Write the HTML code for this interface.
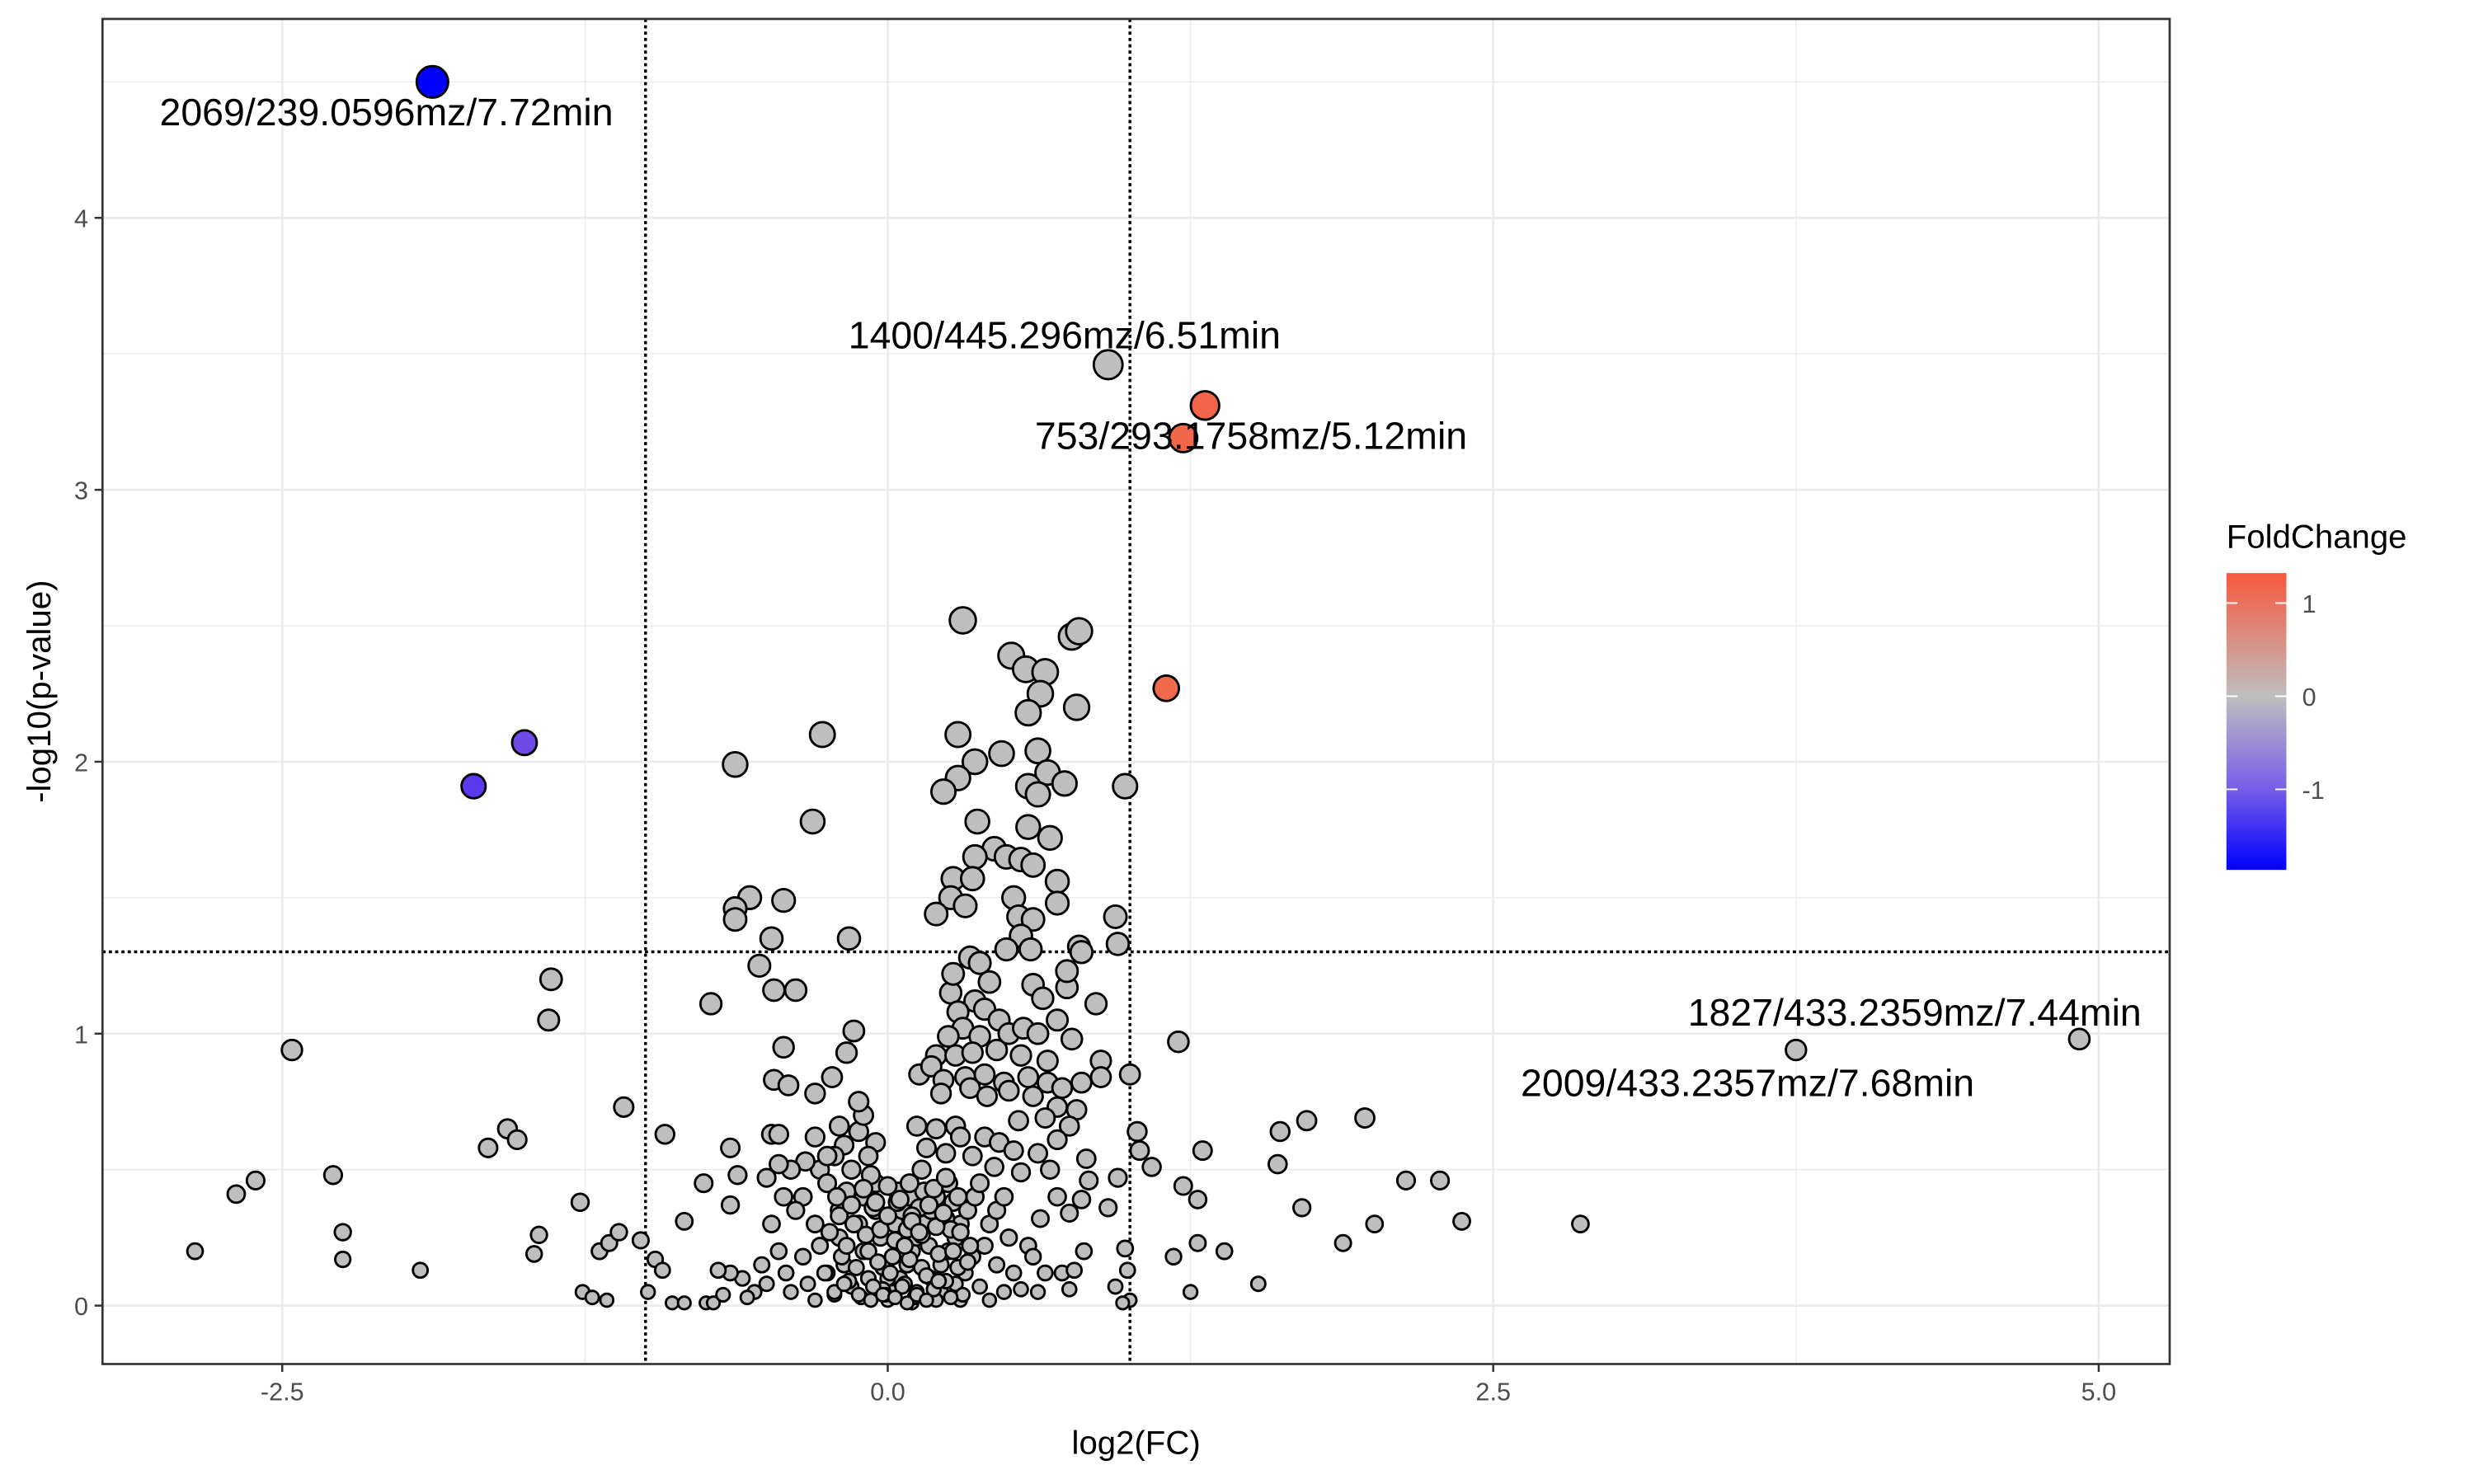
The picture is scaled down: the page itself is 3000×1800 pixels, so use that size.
<!DOCTYPE html>
<html><head><meta charset="utf-8"><style>
html,body{margin:0;padding:0;background:#fff;}
svg{display:block;}
text{font-family:"Liberation Sans",sans-serif;}
</style></head><body>
<svg id="chart" width="3000" height="1800" viewBox="0 0 1569 940" preserveAspectRatio="none" xmlns="http://www.w3.org/2000/svg"></svg>
<script>
const xTicks=[-2.5,0,2.5,5];
const xTickLabels=["-2.5","0.0","2.5","5.0"];
const yTicks=[0,1,2,3,4];
const yTickLabels=["0","1","2","3","4"];
const xVals=[0.31,0.51,0.57,0.65,0.76,0.79,0.63,0.78,0.58,0.29,0.62,0.47,0.36,0.29,0.23,0.66,0.73,0.58,0.62,0.98,0.37,0.58,0.67,0.44,0.49,0.36,0.55,0.60,0.27,0.35,0.70,0.26,0.52,0.32,0.70,0.20,0.94,0.54,0.60,0.55,0.79,0.95,0.49,0.59,0.80,
-0.27,-0.63,-0.31,-0.57,-0.43,-0.63,-0.63,-0.16,-0.48,
-1.39,-1.40,-0.73,-0.53,-0.47,-0.38,-0.14,-0.43,-0.17,-2.46,1.20,1.0,
1.62,1.73,1.97,1.61,2.14,2.28,1.71,2.37,2.01,1.88,2.86,1.53,1.30,1.22,1.28,1.39,1.28,1.18,1.25,1.09,1.03,1.04,
-2.86,-2.69,-2.61,-2.29,-2.25,-2.25,-1.93,-1.65,-1.57,-1.53,-1.44,-1.46,-1.27,-1.09,-0.92,-1.19,-1.15,-1.11,-1.02,-1.26,-1.22,-1.16,-0.99,-0.96,-0.93,-0.84,-0.89,-0.84,-0.75,-0.72,-0.76,-0.65,-0.62,-0.65,-0.48,-0.45,-0.47,-0.41,-0.30,-0.23,
0.26,0.27,0.34,0.38,0.42,0.36,0.29,0.40,0.46,0.31,0.38,0.25,0.50,0.56,0.62,0.70,0.74,0.74,0.60,0.64,0.86,0.76,0.20,0.28,0.35,0.45,0.55,0.66,0.88,0.13,0.18,0.23,0.32,0.40,0.48,0.58,0.66,0.72,0.80,0.88,0.22,0.34,0.41,0.50,0.60,0.70,0.78,0.54,0.65,0.75,0.12,0.20,0.28,0.30,0.40,0.46,0.52,0.62,0.70,0.82,0.16,0.24,0.35,0.44,0.55,0.67,0.83,0.95,0.70,0.80,0.75,0.91,0.63,0.58,0.60,0.65,0.72,0.77,0.81,0.75,0.94,0.99,0.98,1.00,0.97,0.62,
-0.05,-0.12,-0.18,-0.22,-0.28,-0.34,-0.4,-0.45,-0.5,-0.43,-0.35,-0.25,-0.15,-0.08,-0.1,-0.12,-0.2,-0.3,-0.38,-0.3,-0.2,-0.1,-0.05,-0.48,-0.45,-0.52,-0.5,-0.42,-0.35,-0.28,-0.2,-0.12,-0.05,-0.4,-0.33,-0.25,-0.18,-0.1,-0.03,-0.3,-0.22,-0.15,-0.08,-0.02,-0.55,-0.6,-0.58,-0.65,-0.68,-0.7,-0.25,-0.17,-0.07,
0.02,0.05,0.08,0.1,0.12,0.15,0.18,0.2,0.03,0.06,0.09,0.05,0.02,0.12,0.18,0.22,0.25,0.28,0.3,0.33,0.36,0.38,0.25,0.15,0.22,0.28,0.32,0.35,0.4,0.42,0.45,0.48,0.5,0.45,0.38,0.3,0.2,0.1,0.0,0.0,-0.02,0.07,0.14,0.17,0.08,0.04,0.13,0.24,0.27,0.1,0.52,0.55,0.48,0.42,
-0.26,-0.22,-0.19,-0.16,-0.13,-0.11,-0.08,-0.06,-0.04,-0.01,0.01,0.03,0.06,0.09,0.11,0.14,0.16,0.19,0.21,0.24,0.26,0.29,0.31,0.34,
-0.24,-0.2,-0.17,-0.14,-0.09,-0.06,-0.03,0.0,0.04,0.07,0.1,0.13,0.17,0.2,0.23,0.27,0.3,0.33,
-0.21,-0.15,-0.1,-0.05,0.0,0.05,0.09,0.14,0.19,0.24,0.29,-0.18,-0.12,-0.07,-0.02,0.03,0.08,0.12,0.16,0.21,0.26,
0.91,4.92,3.75];
const yVals=[2.52,2.39,2.34,2.33,2.46,2.48,2.25,2.20,2.18,2.10,2.04,2.03,2.00,1.94,1.89,1.96,1.92,1.91,1.88,1.91,1.78,1.76,1.72,1.68,1.65,1.65,1.64,1.62,1.57,1.57,1.56,1.50,1.50,1.47,1.48,1.44,1.43,1.43,1.42,1.36,1.32,1.33,1.31,1.31,1.30,
2.10,1.99,1.78,1.50,1.49,1.46,1.42,1.35,1.35,
1.20,1.05,1.11,1.25,1.16,1.16,1.01,0.95,0.93,0.94,0.97,0.85,
0.64,0.68,0.69,0.52,0.46,0.46,0.36,0.31,0.30,0.23,0.30,0.08,0.57,0.44,0.39,0.20,0.23,0.18,0.05,0.51,0.64,0.57,
0.20,0.41,0.46,0.48,0.27,0.17,0.13,0.58,0.65,0.61,0.26,0.19,0.38,0.73,0.63,0.20,0.23,0.27,0.24,0.05,0.03,0.02,0.05,0.17,0.13,0.31,0.01,0.01,0.01,0.01,0.45,0.58,0.48,0.37,0.63,0.63,0.83,0.81,0.78,0.84,
1.15,1.22,1.28,1.26,1.19,1.12,1.08,1.09,1.05,1.02,0.99,0.99,1.00,1.02,1.00,1.05,1.17,1.23,1.18,1.13,1.11,0.98,0.92,0.92,0.93,0.94,0.92,0.90,0.90,0.85,0.88,0.83,0.84,0.85,0.82,0.84,0.82,0.80,0.82,0.84,0.78,0.80,0.77,0.79,0.77,0.73,0.72,0.68,0.69,0.66,0.66,0.65,0.66,0.62,0.62,0.60,0.57,0.56,0.61,0.54,0.58,0.56,0.55,0.51,0.49,0.50,0.46,0.47,0.40,0.39,0.34,0.36,0.32,0.22,0.18,0.12,0.12,0.13,0.20,0.06,0.07,0.13,0.21,0.02,0.01,0.05,
0.6,0.64,0.59,0.55,0.5,0.53,0.5,0.52,0.47,0.4,0.4,0.45,0.5,0.55,0.7,0.75,0.66,0.62,0.35,0.3,0.35,0.4,0.45,0.3,0.2,0.15,0.08,0.12,0.18,0.22,0.25,0.3,0.35,0.05,0.08,0.12,0.15,0.2,0.25,0.02,0.04,0.07,0.1,0.14,0.05,0.1,0.03,0.12,0.04,0.13,0.55,0.42,0.48,
0.05,0.1,0.15,0.2,0.25,0.3,0.35,0.4,0.3,0.35,0.4,0.2,0.18,0.05,0.1,0.15,0.2,0.25,0.3,0.35,0.4,0.45,0.45,0.42,0.05,0.08,0.12,0.18,0.22,0.3,0.35,0.4,0.25,0.15,0.07,0.02,0.02,0.01,0.02,0.1,0.06,0.08,0.14,0.22,0.28,0.42,0.36,0.32,0.38,0.33,0.12,0.06,0.05,0.02,
0.12,0.05,0.18,0.09,0.14,0.03,0.2,0.07,0.16,0.04,0.12,0.24,0.07,0.17,0.03,0.26,0.11,0.06,0.19,0.09,0.28,0.14,0.04,0.22,
0.27,0.33,0.22,0.3,0.26,0.36,0.28,0.33,0.38,0.22,0.31,0.27,0.37,0.29,0.34,0.2,0.27,0.16,
0.4,0.37,0.43,0.38,0.44,0.39,0.45,0.5,0.43,0.47,0.4,0.08,0.04,0.02,0.04,0.03,0.01,0.04,0.02,0.09,0.03,
3.46,0.98,0.94];
const sigX=[-1.71,-1.50,1.15,1.22,1.31,-1.88];
const sigY=[1.91,2.07,2.27,3.19,3.31,4.50];
const sigFC=[-1.3,-1.15,1.25,1.28,1.30,-1.86];
const labelText=["2069/239.0596mz/7.72min","1400/445.296mz/6.51min","753/293.1758mz/5.12min","1827/433.2359mz/7.44min","2009/433.2357mz/7.68min"];
const labelX=[-2.07,0.73,1.50,4.24,3.55];
const labelY=[4.34,3.52,3.15,1.03,0.77];
const legendTicks=[1,0,-1];
const legendLabels=["1","0","-1"];

const svg=document.getElementById('chart');
const NS="http://www.w3.org/2000/svg";
const L=65,R=1376,T=12,B=864;
const sx=v=>563+v*153.6;
const sy=v=>827-v*172.25;
function mk(tag,attrs,parent){const e=document.createElementNS(NS,tag);for(const k in attrs)e.setAttribute(k,attrs[k]);(parent||svg).appendChild(e);return e;}

const panel=mk('g',{});


mk('rect',{x:L,y:T,width:R-L,height:B-T,fill:'#fff'},panel);
[-1.25,1.25,3.75].forEach(v=>{const l=mk('line',{x1:sx(v),x2:sx(v),y1:T,y2:B,stroke:'#EBEBEB','stroke-width':0.7},panel);});
[0.5,1.5,2.5,3.5,4.5].forEach(v=>{const l=mk('line',{x1:L,x2:R,y1:sy(v),y2:sy(v),stroke:'#EBEBEB','stroke-width':0.7},panel);});
xTicks.forEach(v=>{const l=mk('line',{x1:sx(v),x2:sx(v),y1:T,y2:B,stroke:'#EBEBEB','stroke-width':1.4},panel);});
yTicks.forEach(v=>{const l=mk('line',{x1:L,x2:R,y1:sy(v),y2:sy(v),stroke:'#EBEBEB','stroke-width':1.4},panel);});
[-1,1].forEach(v=>{const l=mk('line',{x1:sx(v),x2:sx(v),y1:T,y2:B,stroke:'#000','stroke-width':1.8,'stroke-dasharray':'2,2'},panel);});
{const l=mk('line',{x1:L,x2:R,y1:sy(1.301),y2:sy(1.301),stroke:'#000','stroke-width':1.8,'stroke-dasharray':'2,2'},panel);}

const rad=y=>3.8+2.7*Math.pow(Math.max(y,0),0.55);
const pts=mk('g',{},panel);


for(let i=0;i<xVals.length;i++){
  const c=mk('circle',{cx:sx(xVals[i]),cy:sy(yVals[i]),r:rad(yVals[i]),fill:'#BEBEBE',stroke:'#000','stroke-width':1.5},pts);
  
  
}
function lerp(a,b,t){return a.map((v,i)=>Math.round(v+(b[i]-v)*t));}
function fcColor(fc){const g=[190,190,190],lo=[0,0,255],hi=[244,100,70];
  let c= fc<0? lerp(g,lo,Math.min(1,-fc/1.86)) : lerp(g,hi,Math.min(1,fc/1.32));
  if(fc<0){c[0]=Math.min(190,c[0]+Math.round(40*Math.sin(Math.PI*Math.min(1,-fc/1.86))));}
  return 'rgb('+c.join(',')+')';}
for(let i=0;i<sigX.length;i++){
  const c=mk('circle',{cx:sx(sigX[i]),cy:sy(sigY[i]),r:rad(sigY[i]),fill:fcColor(sigFC[i]),stroke:'#000','stroke-width':1.5},pts);
  
  
}
for(let i=0;i<labelText.length;i++){
  const t=mk('text',{x:sx(labelX[i]),y:sy(labelY[i]),'font-size':24.3,'text-anchor':'middle',fill:'#000'},panel);
  t.textContent=labelText[i];
  
  
}
{const b=mk('rect',{x:L,y:T,width:R-L,height:B-T,fill:'none',stroke:'#333','stroke-width':1.4});}
xTicks.forEach((v,i)=>{mk('line',{x1:sx(v),x2:sx(v),y1:B,y2:B+5,stroke:'#333','stroke-width':1.3});
  const t=mk('text',{x:sx(v),y:B+23,'font-size':16,'text-anchor':'middle',fill:'#4D4D4D'});t.textContent=xTickLabels[i];
  });
yTicks.forEach((v,i)=>{mk('line',{x1:L-5,x2:L,y1:sy(v),y2:sy(v),stroke:'#333','stroke-width':1.3});
  const t=mk('text',{x:L-9,y:sy(v)+6,'font-size':16,'text-anchor':'end',fill:'#4D4D4D'});t.textContent=yTickLabels[i];
  });
{const t=mk('text',{x:(L+R)/2,y:921,'font-size':21,'text-anchor':'middle',fill:'#000'});t.textContent='log2(FC)';}
{const t=mk('text',{x:0,y:0,'font-size':21,'text-anchor':'middle',fill:'#000',transform:'translate(32,'+((T+B)/2)+') rotate(-90)'});t.textContent='-log10(p-value)';}
const lg=mk('g',{});


const defs=mk('defs',{},svg);
const grad=mk('linearGradient',{id:'fcg',x1:0,y1:0,x2:0,y2:1},defs);
mk('stop',{offset:'0','stop-color':'#F8593E'},grad);
mk('stop',{offset:String(1.32/3.18),'stop-color':'#BEBEBE'},grad);
mk('stop',{offset:'0.72','stop-color':'#7A60E8'},grad);
mk('stop',{offset:'1','stop-color':'#0000FF'},grad);
{const t=mk('text',{x:1412,y:347,'font-size':21,fill:'#000'},lg);t.textContent='FoldChange';}
{const r=mk('rect',{x:1412,y:363,width:38,height:188,fill:'url(#fcg)'},lg);}
const ly=v=>441-v*59;
legendTicks.forEach((v,i)=>{mk('line',{x1:1412,x2:1419,y1:ly(v),y2:ly(v),stroke:'#fff','stroke-width':1},lg);mk('line',{x1:1443,x2:1450,y1:ly(v),y2:ly(v),stroke:'#fff','stroke-width':1},lg);
  const t=mk('text',{x:1460,y:ly(v)+6,'font-size':16,fill:'#4D4D4D'},lg);t.textContent=legendLabels[i];});
</script>
</body></html>
